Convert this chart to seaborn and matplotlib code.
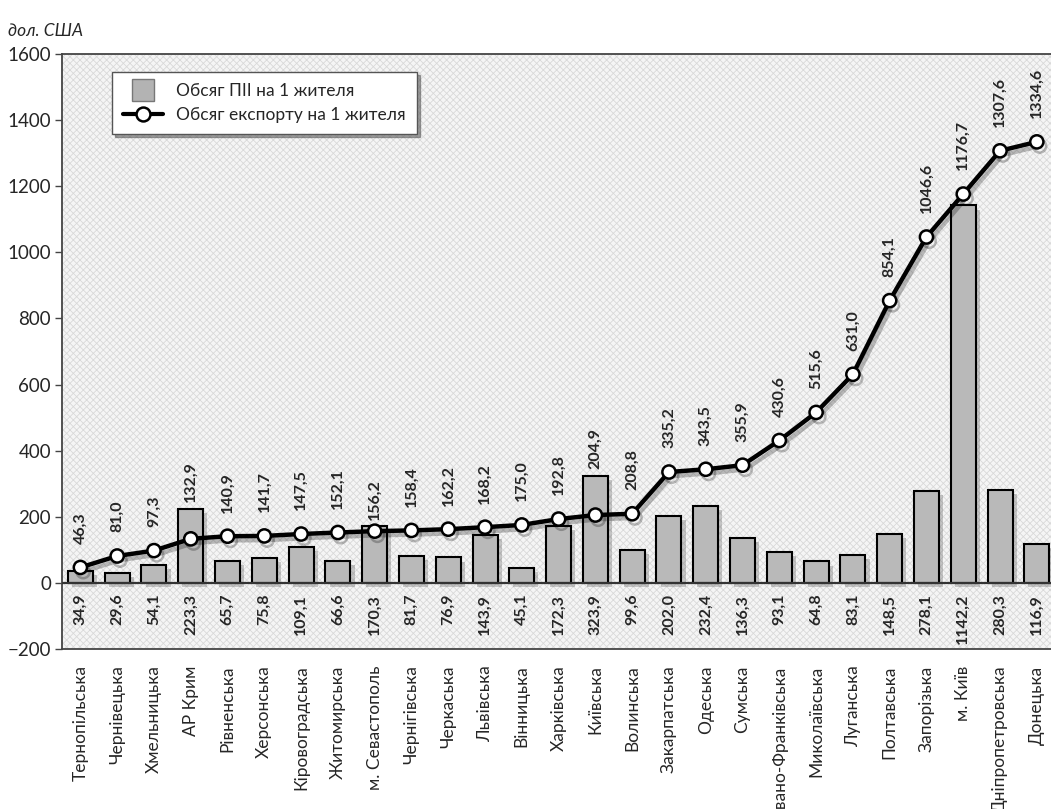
import numpy as np
import pandas as pd
import seaborn as sns
import matplotlib.pyplot as plt
from matplotlib.patches import Rectangle
from matplotlib.lines import Line2D
import matplotlib.patheffects as pe

regions = ['Тернопільська', 'Чернівецька', 'Хмельницька', 'АР Крим', 'Рівненська',
           'Херсонська', 'Кіровоградська', 'Житомирська', 'м. Севастополь', 'Чернігівська',
           'Черкаська', 'Львівська', 'Вінницька', 'Харківська', 'Київська', 'Волинська',
           'Закарпатська', 'Одеська', 'Сумська', 'Івано-Франківська', 'Миколаївська',
           'Луганська', 'Полтавська', 'Запорізька', 'м. Київ', 'Дніпропетровська', 'Донецька']
pii = [34.9, 29.6, 54.1, 223.3, 65.7, 75.8, 109.1, 66.6, 170.3, 81.7, 76.9, 143.9, 45.1,
       172.3, 323.9, 99.6, 202.0, 232.4, 136.3, 93.1, 64.8, 83.1, 148.5, 278.1, 1142.2,
       280.3, 116.9]
export = [46.3, 81.0, 97.3, 132.9, 140.9, 141.7, 147.5, 152.1, 156.2, 158.4, 162.2, 168.2,
          175.0, 192.8, 204.9, 208.8, 335.2, 343.5, 355.9, 430.6, 515.6, 631.0, 854.1,
          1046.6, 1176.7, 1307.6, 1334.6]
y_ticks = [-200, 0, 200, 400, 600, 800, 1000, 1200, 1400, 1600]

def fmt(v):
    return f'{v:.1f}'.replace('.', ',')

df = pd.DataFrame({'region': regions, 'pii': pii, 'export': export})
df['pos'] = np.arange(len(df))

sns.set_style('white')
plt.rcParams['font.family'] = ['Lato', 'DejaVu Sans']
plt.rcParams['hatch.linewidth'] = 0.6

fig = plt.figure(figsize=(10.51, 8.09), dpi=100)
ax = fig.add_axes([0.059, 0.198, 0.945, 0.735])

# hatched background like the original
ax.set_facecolor('#f5f5f5')
ax.add_patch(Rectangle((0, 0), 1, 1, transform=ax.transAxes, facecolor='none',
                       edgecolor='#d9d9d9', hatch='xxxxx', lw=0, zorder=0))

sns.barplot(data=df, x='region', y='pii', color='#b9b9b9', edgecolor='black',
            linewidth=1.5, width=0.68, saturation=1, ax=ax, zorder=2)
for bar in ax.patches[1:]:
    bar.set_path_effects([pe.SimplePatchShadow(offset=(3, -3), alpha=0.25), pe.Normal()])

sns.lineplot(data=df, x='pos', y='export', color='black', linewidth=3.2, marker='o',
             markersize=9.5, markerfacecolor='white', markeredgecolor='black',
             markeredgewidth=1.8, ax=ax, zorder=4,
             path_effects=[pe.SimpleLineShadow(offset=(2, -3), alpha=0.25), pe.Normal()])

ax.axhline(0, color='#333333', lw=1.6, zorder=3)

for i, row in df.iterrows():
    # export label sits above the marker, or above the bar when the bar is taller
    if row['pii'] > row['export']:
        base, off = row['pii'], 5
    else:
        base, off = row['export'], 17
    ax.annotate(fmt(row['export']), (row['pos'], base), xytext=(0, off),
                textcoords='offset points', rotation=90, ha='center', va='bottom',
                fontsize=11.5, fontweight='bold', zorder=5)
    ax.annotate(fmt(row['pii']), (row['pos'], 0), xytext=(0, -8),
                textcoords='offset points', rotation=90, ha='center', va='top',
                fontsize=11.5, fontweight='bold', zorder=5)

ax.set_xlim(-0.5, len(df) - 0.5)
ax.set_ylim(-200, 1600)
ax.set_yticks(y_ticks)
ax.set_yticklabels([str(t).replace('-', '\u2212') for t in y_ticks], fontsize=13.5)
ax.set_xticks(np.arange(len(df)) - 0.5, minor=True)
ax.tick_params(axis='x', which='minor', length=6, width=1, color='#444444', direction='out')
ax.tick_params(axis='x', which='major', length=0, pad=12)
ax.tick_params(axis='y', length=5, width=1, color='#444444', direction='out', left=True, pad=3)
ax.set_xticks(df['pos'])
ax.set_xticklabels(regions, rotation=90, fontsize=12.5)
ax.set_xlabel('')
ax.set_ylabel('')
for s in ['left', 'bottom', 'top']:
    ax.spines[s].set_color('#444444')
    ax.spines[s].set_linewidth(1.3)
ax.spines['right'].set_visible(False)

fig.text(0.008, 0.962, 'дол. США', fontsize=12.5, fontstyle='italic', ha='left', va='center')

handles = [Line2D([], [], linestyle='none', marker='s', markersize=16,
                  markerfacecolor='#b3b3b3', markeredgecolor='#777777', markeredgewidth=1),
           Line2D([], [], color='black', lw=3, marker='o', markersize=10,
                  markerfacecolor='white', markeredgecolor='black', markeredgewidth=1.8)]
leg = fig.legend(handles, ['Обсяг ПІІ на 1 жителя', 'Обсяг експорту на 1 жителя'],
                 loc='upper left', bbox_to_anchor=(0.1065, 0.911), fontsize=12.5,
                 frameon=True, fancybox=False, shadow=True, handlelength=2.3,
                 handletextpad=0.75, borderpad=0.65, labelspacing=0.45, borderaxespad=0)
leg.get_frame().set_edgecolor('#555555')
leg.get_frame().set_linewidth(1)

fig.savefig('out.png', dpi=100)
